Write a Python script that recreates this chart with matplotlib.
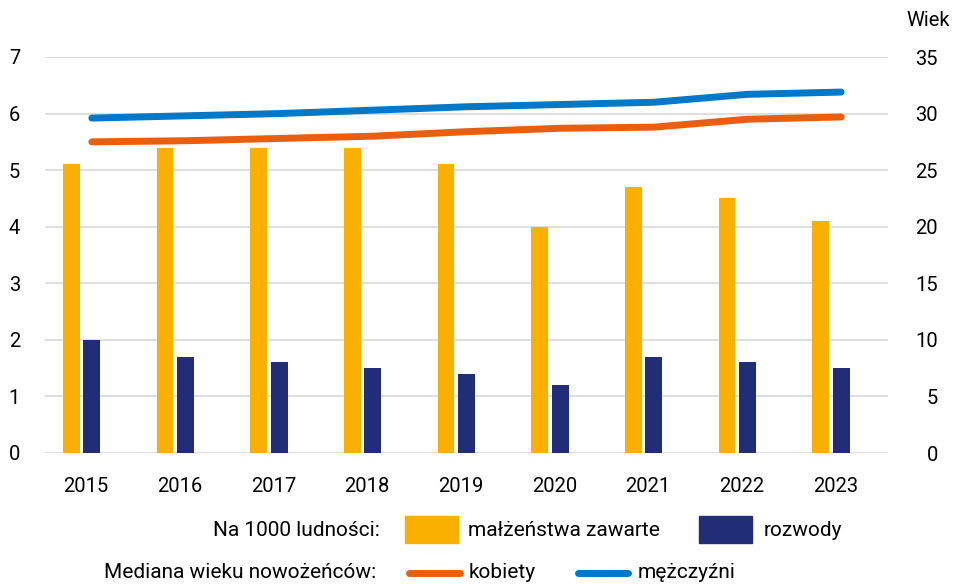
import matplotlib
matplotlib.use("Agg")
import matplotlib.pyplot as plt
import numpy as np
from matplotlib.patches import Rectangle
from matplotlib.lines import Line2D

plt.rcParams['font.family'] = ['Roboto', 'DejaVu Sans']

years = ['2015', '2016', '2017', '2018', '2019', '2020', '2021', '2022', '2023']
marriages = [5.1, 5.4, 5.4, 5.4, 5.1, 4.0, 4.7, 4.5, 4.1]
divorces = [2.0, 1.7, 1.6, 1.5, 1.4, 1.2, 1.7, 1.6, 1.5]
age_women = [27.5, 27.6, 27.8, 28.0, 28.4, 28.7, 28.8, 29.5, 29.7]
age_men = [29.6, 29.8, 30.0, 30.3, 30.6, 30.8, 31.0, 31.7, 31.9]

C_ORANGE_BAR = '#F9B000'
C_NAVY = '#222D78'
C_ORANGE_LINE = '#E95E0F'
C_BLUE = '#0078C8'
C_GRID = '#D9D9D9'
FS = 15
FS_TICK = 14.5

W, H = 955, 584
fig = plt.figure(figsize=(W / 100, H / 100), dpi=100)
ax = fig.add_axes([45 / W, 1 - 453 / H, (888 - 45) / W, (453 - 57) / H])
ax2 = ax.twinx()

x = np.arange(len(years))
bw = 0.178
ax.bar(x - 0.22, marriages, width=bw, color=C_ORANGE_BAR, zorder=3)
ax.bar(x + 0.0, divorces, width=bw, color=C_NAVY, zorder=3)

ax2.plot(x, age_women, color=C_ORANGE_LINE, lw=5, solid_capstyle='round', zorder=4)
ax2.plot(x, age_men, color=C_BLUE, lw=5, solid_capstyle='round', zorder=4)

ax.set_xlim(-0.5, len(years) - 0.5)
ax.set_ylim(0, 7)
ax2.set_ylim(0, 35)
ax.set_yticks(range(0, 8))
ax2.set_yticks(range(0, 36, 5))
ax.grid(axis='y', color=C_GRID, lw=1.2, zorder=0)
ax.set_axisbelow(True)

for a in (ax, ax2):
    for s in a.spines.values():
        s.set_visible(False)

ax.set_xticks(x - 0.06)
ax.set_xticklabels(years, fontsize=FS_TICK)
ax.tick_params(axis='x', length=0, pad=17)
ax.tick_params(axis='y', length=0, pad=18, labelsize=FS_TICK)
ax2.tick_params(axis='y', length=0, pad=36, labelsize=FS_TICK)
for lab in ax2.get_yticklabels():
    lab.set_horizontalalignment('right')

fig.text(928 / W, 1 - 20 / H, 'Wiek', fontsize=FS_TICK, ha='center', va='center')

# legend row 1
y1 = 1 - 530 / H
fig.text(380 / W, y1, 'Na 1000 ludności:', fontsize=FS, ha='right', va='center')
fig.add_artist(Rectangle((405 / W, 1 - 543 / H), 53 / W, 27 / H, color=C_ORANGE_BAR, transform=fig.transFigure))
fig.text(468 / W, y1, 'małżeństwa zawarte', fontsize=FS, ha='left', va='center')
fig.add_artist(Rectangle((699 / W, 1 - 543 / H), 53 / W, 27 / H, color=C_NAVY, transform=fig.transFigure))
fig.text(764 / W, y1, 'rozwody', fontsize=FS, ha='left', va='center')

# legend row 2
y2 = 1 - 573 / H
fig.text(376 / W, y2, 'Mediana wieku nowożeńców:', fontsize=FS, ha='right', va='center')
fig.add_artist(Line2D([409 / W, 460 / W], [y2, y2], color=C_ORANGE_LINE, lw=5, solid_capstyle='round', transform=fig.transFigure))
fig.text(469 / W, y2, 'kobiety', fontsize=FS, ha='left', va='center')
fig.add_artist(Line2D([578 / W, 628 / W], [y2, y2], color=C_BLUE, lw=5, solid_capstyle='round', transform=fig.transFigure))
fig.text(638 / W, y2, 'mężczyźni', fontsize=FS, ha='left', va='center')

fig.savefig('out.png', dpi=100)
